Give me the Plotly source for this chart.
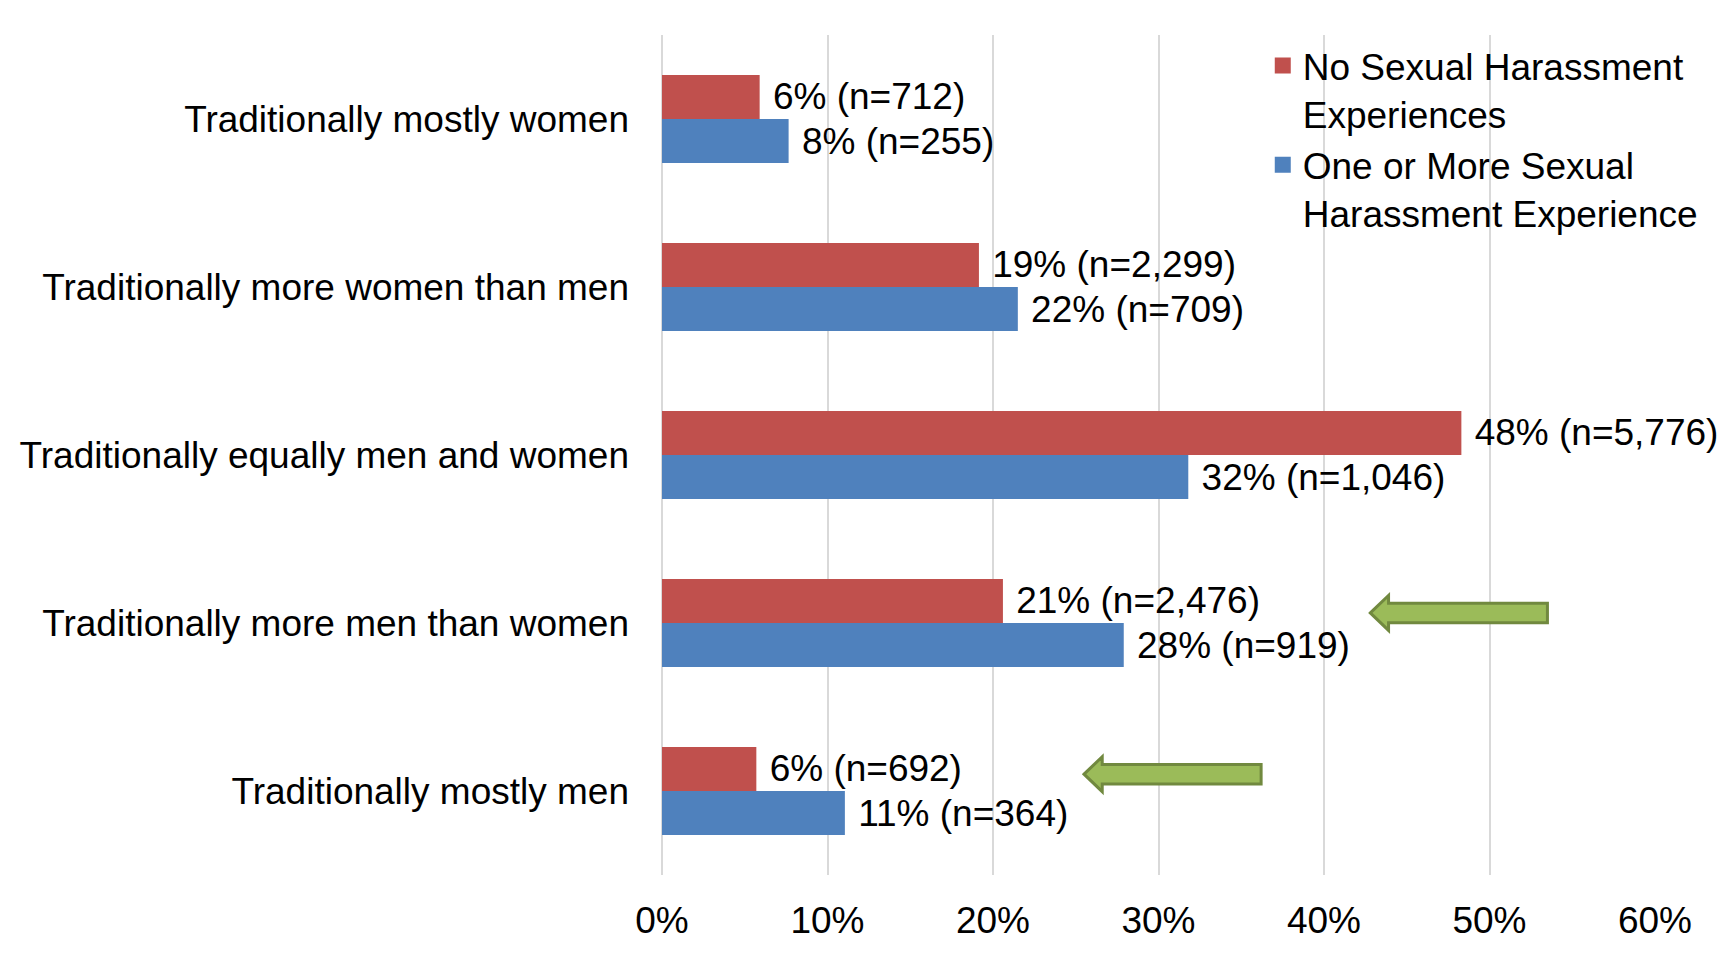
import plotly.graph_objects as go

categories = [
    "Traditionally mostly women",
    "Traditionally more women than men",
    "Traditionally equally men and women",
    "Traditionally more men than women",
    "Traditionally mostly men",
]
no_harass_pct = [0.059, 0.1915, 0.483, 0.206, 0.057]
no_harass_labels = ["6% (n=712)", "19% (n=2,299)", "48% (n=5,776)", "21% (n=2,476)", "6% (n=692)"]
harass_pct = [0.0765, 0.215, 0.318, 0.279, 0.1105]
harass_labels = ["8% (n=255)", "22% (n=709)", "32% (n=1,046)", "28% (n=919)", "11% (n=364)"]
series_names = ["No Sexual Harassment<br>Experiences", "One or More Sexual<br>Harassment Experience"]
x_ticks = [0, 0.1, 0.2, 0.3, 0.4, 0.5, 0.6]
x_tick_labels = ["0%", "10%", "20%", "30%", "40%", "50%", "60%"]

RED = "#C0504D"
BLUE = "#4F81BD"
FONT = "Arial, Liberation Sans, sans-serif"
FS = 37

fig = go.Figure()
for name, vals, labels, color in [
    (series_names[0], no_harass_pct, no_harass_labels, RED),
    (series_names[1], harass_pct, harass_labels, BLUE),
]:
    fig.add_trace(go.Bar(
        y=categories, x=vals, orientation="h", name=name,
        marker=dict(color=color, line=dict(width=0)),
        text=["\u00a0" + t for t in labels], textposition="outside",
        textfont=dict(family=FONT, size=FS, color="black"),
        constraintext="none", cliponaxis=False, showlegend=False,
    ))

# legend entries (square swatches)
for name, color in [(series_names[0], RED), (series_names[1], BLUE)]:
    fig.add_trace(go.Scatter(
        x=[None], y=[None], mode="markers", name=name,
        marker=dict(symbol="square", size=20, color=color),
        showlegend=True,
    ))

# decorative block arrows (tip x, tail x, y position in category index units)
arrows = [(0.428, 0.535, 2.94), (0.255, 0.362, 3.90)]
SH, HH, HL = 0.058, 0.104, 0.011
for tip, tail, yc in arrows:
    path = (f"M{tip},{yc} L{tip+HL},{yc-HH} L{tip+HL},{yc-SH} L{tail},{yc-SH} "
            f"L{tail},{yc+SH} L{tip+HL},{yc+SH} L{tip+HL},{yc+HH} Z")
    fig.add_shape(type="path", path=path, xref="x", yref="y",
                  fillcolor="#9BBB59", line=dict(color="#71893F", width=3), layer="above")

# right border line of the original picture
fig.add_shape(type="line", xref="paper", yref="paper", x0=1.066, x1=1.066, y0=-0.1, y1=1.035,
              line=dict(color="#A6A6A6", width=2))

fig.update_layout(
    width=1717, height=948,
    margin=dict(l=654, r=70, t=27, b=81, pad=0),
    paper_bgcolor="white", plot_bgcolor="white",
    barmode="group", bargap=0.476, bargroupgap=0,
    font=dict(family=FONT, size=FS, color="black"),
    showlegend=True,
    legend=dict(x=0.605, xanchor="left", y=1.0, yanchor="top",
                font=dict(family=FONT, size=FS, color="black"),
                valign="top", bgcolor="rgba(0,0,0,0)", itemclick=False,
                itemsizing="trace"),
    xaxis=dict(range=[0, 0.6], tickvals=x_ticks, ticktext=x_tick_labels,
               showgrid=True, gridcolor="#D9D9D9", gridwidth=2,
               zeroline=True, zerolinecolor="#D9D9D9", zerolinewidth=2,
               showline=False, ticks="",
               ticklabelstandoff=20,
               tickfont=dict(family=FONT, size=FS, color="black")),
    yaxis=dict(autorange="reversed", showgrid=False, zeroline=False, showline=False,
               ticks="", ticklabelstandoff=32,
               tickfont=dict(family=FONT, size=FS, color="black")),
)

fig.write_html("out.html")
